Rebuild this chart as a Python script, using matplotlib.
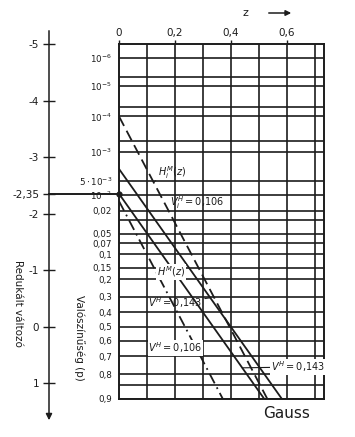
import math
import numpy as np
import matplotlib
matplotlib.use('Agg')
import matplotlib.pyplot as plt

# Gauss probability paper, drawn upside down like the scanned reference
W, H = 355, 437
INK = '#1c1c1c'

# horizontal grid lines (probabilities) and which of them get a label
GRID_P = [1e-6, 5e-6, 1e-5, 5e-5, 1e-4, 5e-4, 1e-3, 5e-3, 1e-2, 0.02, 0.03,
          0.05, 0.07, 0.1, 0.15, 0.2, 0.3, 0.4, 0.5, 0.6, 0.7, 0.8, 0.85, 0.9]
LABEL_P = [1e-6, 1e-5, 1e-4, 1e-3, 5e-3, 1e-2, 0.02, 0.05, 0.07, 0.1, 0.15,
           0.2, 0.3, 0.4, 0.5, 0.6, 0.7, 0.8, 0.9]
LABEL_P_TXT = ['$10^{-6}$', '$10^{-5}$', '$10^{-4}$', '$10^{-3}$',
               r'$5\cdot10^{-3}$', '$10^{-2}$', '0,02', '0,05', '0,07', '0,1',
               '0,15', '0,2', '0,3', '0,4', '0,5', '0,6', '0,7', '0,8', '0,9']

# vertical grid lines (z) and top tick labels
GRID_Z = [0.1, 0.2, 0.3, 0.4, 0.5, 0.6, 0.7]
Z_TICKS = [0, 0.2, 0.4, 0.6]
Z_TICK_TXT = ['0', '0,2', '0,4', '0,6']

# reduced variable axis
RED_TICKS = [-5, -4, -3, -2.35, -2, -1, 0, 1]
RED_TICK_TXT = ['-5', '-4', '-3', '-2,35', '-2', '-1', '0', '1']
U_MARK = -2.35

# straight distribution lines: start (z, u) and end (z, u)
LINE_Z0 = [0.0, 0.0, 0.0, 0.0]
LINE_U0 = [-2.35, -2.79, -3.72, -2.22]
LINE_Z1 = [0.519, 0.582, 0.530, 0.371]
LINE_U1 = [1.2816, 1.2816, 1.2816, 1.2816]
LINE_STYLE = ['-', '-', (0, (6, 3)), (0, (6, 2.5, 1, 2.5))]


def probit(p):
    lo, hi = -10.0, 10.0
    for _ in range(80):
        mid = 0.5 * (lo + hi)
        if 0.5 * (1 + math.erf(mid / math.sqrt(2))) < p:
            lo = mid
        else:
            hi = mid
    return 0.5 * (lo + hi)


def fx(px):
    return px / W


def fy(py):
    return 1 - py / H


# pixel box of the grid
GL, GT, GR, GB = 119, 44, 324, 399
z_max = (GR - GL) / 280.0
u_top = -5.0
u_bot = probit(0.9)
px_per_u = (GB - GT) / (u_bot - u_top)

fig = plt.figure(figsize=(W / 100, H / 100), dpi=100)
fig.patch.set_facecolor('white')

ax = fig.add_axes([fx(GL), fy(GB), (GR - GL) / W, (GB - GT) / H])
ax.set_xlim(0, z_max)
ax.set_ylim(u_bot, u_top)
for s in ax.spines.values():
    s.set_linewidth(1.4)
    s.set_color(INK)

for z in GRID_Z:
    ax.axvline(z, color=INK, lw=1.2)
for p in GRID_P:
    ax.axhline(probit(p), color=INK, lw=1.2)

# top z ticks
ax.xaxis.tick_top()
ax.set_xticks(Z_TICKS)
ax.set_xticklabels(Z_TICK_TXT)
ax.tick_params(axis='x', length=3, width=1, pad=1, labelsize=7.5, colors=INK)

# probability labels on the left of the grid
ax.set_yticks([probit(p) for p in LABEL_P])
ax.set_yticklabels(LABEL_P_TXT)
ax.tick_params(axis='y', length=0, pad=5, labelsize=6.3, colors=INK)

# distribution lines
for z0, u0, z1, u1, ls in zip(LINE_Z0, LINE_U0, LINE_Z1, LINE_U1, LINE_STYLE):
    ax.plot([z0, z1], [u0, u1], color=INK, lw=1.3, ls=ls)

# reduced variable axis
ax_red = fig.add_axes([fx(49), fy(423), 0.0001, (423 - 28) / H])
ax_red.set_ylim(u_bot + (423 - GB) / px_per_u, u_top - (GT - 28) / px_per_u)
for k in ['top', 'right', 'bottom', 'left']:
    ax_red.spines[k].set_visible(False)
ax_red.set_xticks([])
ax_red.set_yticks(RED_TICKS)
ax_red.set_yticklabels(RED_TICK_TXT)
ax_red.tick_params(axis='y', direction='inout', length=8, width=1, pad=3,
                   labelsize=7.5, colors=INK)
ax_red.annotate('', xy=(0, 0), xycoords='axes fraction', xytext=(0, 1),
                arrowprops=dict(arrowstyle='-|>', color=INK, lw=1.1,
                                mutation_scale=9))

# marked value -2,35 carried over to the grid
z_axis = (49 - GL) / 280.0
ax.plot([z_axis, 0], [U_MARK, U_MARK], color=INK, lw=1.4, clip_on=False)
ax.plot([0], [U_MARK], 'o', color=INK, ms=3.5, clip_on=False)

# line labels
lab = dict(fontsize=7, color=INK, va='center', ha='left')
ax.annotate('$H_i^M(z)$', xy=(0.123, -2.56), xytext=(0.141, -2.73),
            arrowprops=dict(arrowstyle='-', color=INK, lw=0.8,
                            shrinkA=0, shrinkB=0), **lab)
ax.text(0.182, -2.20, '$V_i^H=0{,}106$', **lab)
ax.text(0.136, -0.97, '$H^M(z)$',
        bbox=dict(facecolor='white', edgecolor='none', pad=0.5), **lab)
ax.annotate('$V^H=0{,}143$', xy=(0.327, -0.51), xytext=(0.104, -0.42),
            arrowprops=dict(arrowstyle='-', color=INK, lw=0.8,
                            shrinkA=0, shrinkB=0), **lab)
ax.text(0.104, 0.38, '$V^H=0{,}106$',
        bbox=dict(facecolor='white', edgecolor='none', pad=0.3), **lab)
ax.annotate('$V^H=0{,}143$', xy=(0.44, 0.73), xytext=(0.542, 0.715),
            arrowprops=dict(arrowstyle='-', color=INK, lw=0.8,
                            shrinkA=0, shrinkB=0),
            bbox=dict(facecolor='white', edgecolor='none', pad=0.3), **lab)

# axis titles and other text
fig.text(fx(18), fy(303), 'Redukált változó', rotation=270, fontsize=7.5,
         color=INK, ha='center', va='center')
fig.text(fx(79), fy(338), 'Valószínűség (p)', rotation=270, fontsize=7.5,
         color=INK, ha='center', va='center')
fig.text(fx(287), fy(414), 'Gauss', fontsize=11, color=INK,
         ha='center', va='center')
fig.text(fx(245), fy(13), 'z', fontsize=8, color=INK, ha='center',
         va='center')
fig.add_artist(matplotlib.patches.FancyArrowPatch(
    (fx(266), fy(13)), (fx(294), fy(13)), transform=fig.transFigure,
    arrowstyle='-|>', mutation_scale=8, color=INK, lw=1.1))

fig.savefig('out.png', dpi=100, facecolor='white')
